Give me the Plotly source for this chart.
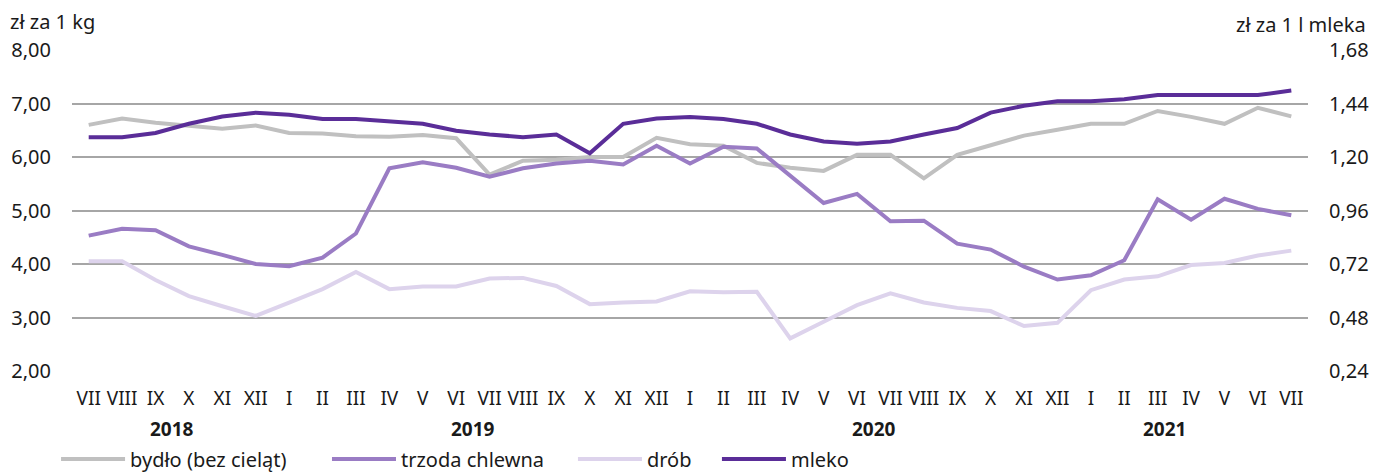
import plotly.graph_objects as go

months = ["VII", "VIII", "IX", "X", "XI", "XII",
          "I", "II", "III", "IV", "V", "VI", "VII", "VIII", "IX", "X", "XI", "XII",
          "I", "II", "III", "IV", "V", "VI", "VII", "VIII", "IX", "X", "XI", "XII",
          "I", "II", "III", "IV", "V", "VI", "VII"]
years = ["2018", "2019", "2020", "2021"]

bydlo = [6.60, 6.72, 6.64, 6.59, 6.53, 6.59, 6.45, 6.44, 6.39, 6.38, 6.41, 6.35,
         5.67, 5.93, 5.95, 6.00, 6.00, 6.36, 6.24, 6.21, 5.89, 5.80, 5.74, 6.04,
         6.04, 5.60, 6.04, 6.22, 6.40, 6.51, 6.62, 6.62, 6.86, 6.75, 6.62, 6.92, 6.76]
trzoda = [4.53, 4.66, 4.63, 4.33, 4.17, 4.00, 3.96, 4.12, 4.57, 5.79, 5.90, 5.80,
          5.63, 5.79, 5.88, 5.93, 5.86, 6.21, 5.88, 6.19, 6.16, 5.65, 5.14, 5.31,
          4.80, 4.81, 4.38, 4.27, 3.95, 3.71, 3.79, 4.07, 5.21, 4.83, 5.22, 5.03, 4.91]
drob = [4.05, 4.05, 3.70, 3.40, 3.21, 3.03, 3.28, 3.53, 3.85, 3.53, 3.58, 3.58,
        3.73, 3.74, 3.59, 3.25, 3.28, 3.30, 3.49, 3.47, 3.48, 2.61, 2.92, 3.23,
        3.45, 3.28, 3.18, 3.12, 2.84, 2.90, 3.51, 3.71, 3.77, 3.98, 4.02, 4.16, 4.25]
mleko = [1.289, 1.289, 1.308, 1.349, 1.382, 1.399, 1.390, 1.370, 1.370, 1.361, 1.349, 1.318,
         1.301, 1.289, 1.301, 1.217, 1.349, 1.373, 1.380, 1.370, 1.349, 1.301, 1.270, 1.260,
         1.270, 1.301, 1.330, 1.399, 1.430, 1.450, 1.450, 1.459, 1.478, 1.478, 1.478, 1.478, 1.498]

x = list(range(len(months)))
FONT = "Noto Sans"
TXT = "#1a1a1a"

series = [
    ("bydło (bez cieląt)", bydlo, "#c0c0c0", "y", "legend"),
    ("trzoda chlewna", trzoda, "#9a7cc4", "y", "legend2"),
    ("drób", drob, "#ddd3ec", "y", "legend3"),
    ("mleko", mleko, "#5a2d98", "y2", "legend4"),
]

fig = go.Figure()
for name, vals, color, yax, leg in series:
    fig.add_trace(go.Scatter(x=x, y=vals, name=name, mode="lines", yaxis=yax, legend=leg,
                             showlegend=True, line=dict(color=color, width=4)))

year_x = [2.5, 11.5, 23.5, 32.2]
annotations = [dict(text=f"<b>{y}</b>", x=xx, xref="x", y=-0.18, yref="paper",
                    showarrow=False, xanchor="center", yanchor="middle",
                    font=dict(size=19, color=TXT, family=FONT))
               for y, xx in zip(years, year_x)]
annotations.append(dict(text="zł za 1 kg", x=-0.052, xref="paper", y=1.09, yref="paper",
                        showarrow=False, xanchor="left", yanchor="middle",
                        font=dict(size=20, color=TXT, family=FONT)))
annotations.append(dict(text="zł za 1 l mleka", x=1.0485, xref="paper", y=1.08, yref="paper",
                        showarrow=False, xanchor="right", yanchor="middle",
                        font=dict(size=20, color=TXT, family=FONT)))

leg_common = dict(orientation="h", xanchor="left", y=-0.274, yanchor="middle",
                  font=dict(size=20, family=FONT, color=TXT), itemwidth=64,
                  bgcolor="rgba(0,0,0,0)", visible=True)
leg_x = [-0.0129, 0.2063, 0.4053, 0.5218]

fig.update_layout(
    width=1386, height=475,
    margin=dict(l=72, r=78, t=50, b=104, autoexpand=False),
    paper_bgcolor="white", plot_bgcolor="white",
    separators=", ",
    showlegend=True,
    font=dict(family=FONT, size=19, color=TXT),
    xaxis=dict(range=[-0.5, len(months) - 0.5], tickmode="array", tickvals=x, ticktext=months,
               showgrid=False, zeroline=False, showline=False,
               ticks="outside", ticklen=10, tickcolor="rgba(0,0,0,0)",
               tickfont=dict(size=19, family=FONT, color=TXT)),
    yaxis=dict(range=[2, 8], dtick=1, tickformat=".2f", showgrid=True,
               gridcolor="#a6a6a6", gridwidth=1.5, zeroline=False, showline=False,
               ticks="outside", ticklen=16, tickcolor="rgba(0,0,0,0)",
               tickfont=dict(size=20, family=FONT, color=TXT)),
    yaxis2=dict(range=[0.24, 1.68], dtick=0.24, tick0=0.24, tickformat=".2f", overlaying="y",
                side="right", showgrid=False, zeroline=False, showline=False,
                ticks="outside", ticklen=16, tickcolor="rgba(0,0,0,0)",
                tickfont=dict(size=20, family=FONT, color=TXT)),
    legend=dict(x=leg_x[0], **leg_common),
    legend2=dict(x=leg_x[1], **leg_common),
    legend3=dict(x=leg_x[2], **leg_common),
    legend4=dict(x=leg_x[3], **leg_common),
    annotations=annotations,
)

fig.write_html("out.html", config={"displayModeBar": False},
               post_script="document.body.style.margin='0';document.body.style.overflow='hidden';")
